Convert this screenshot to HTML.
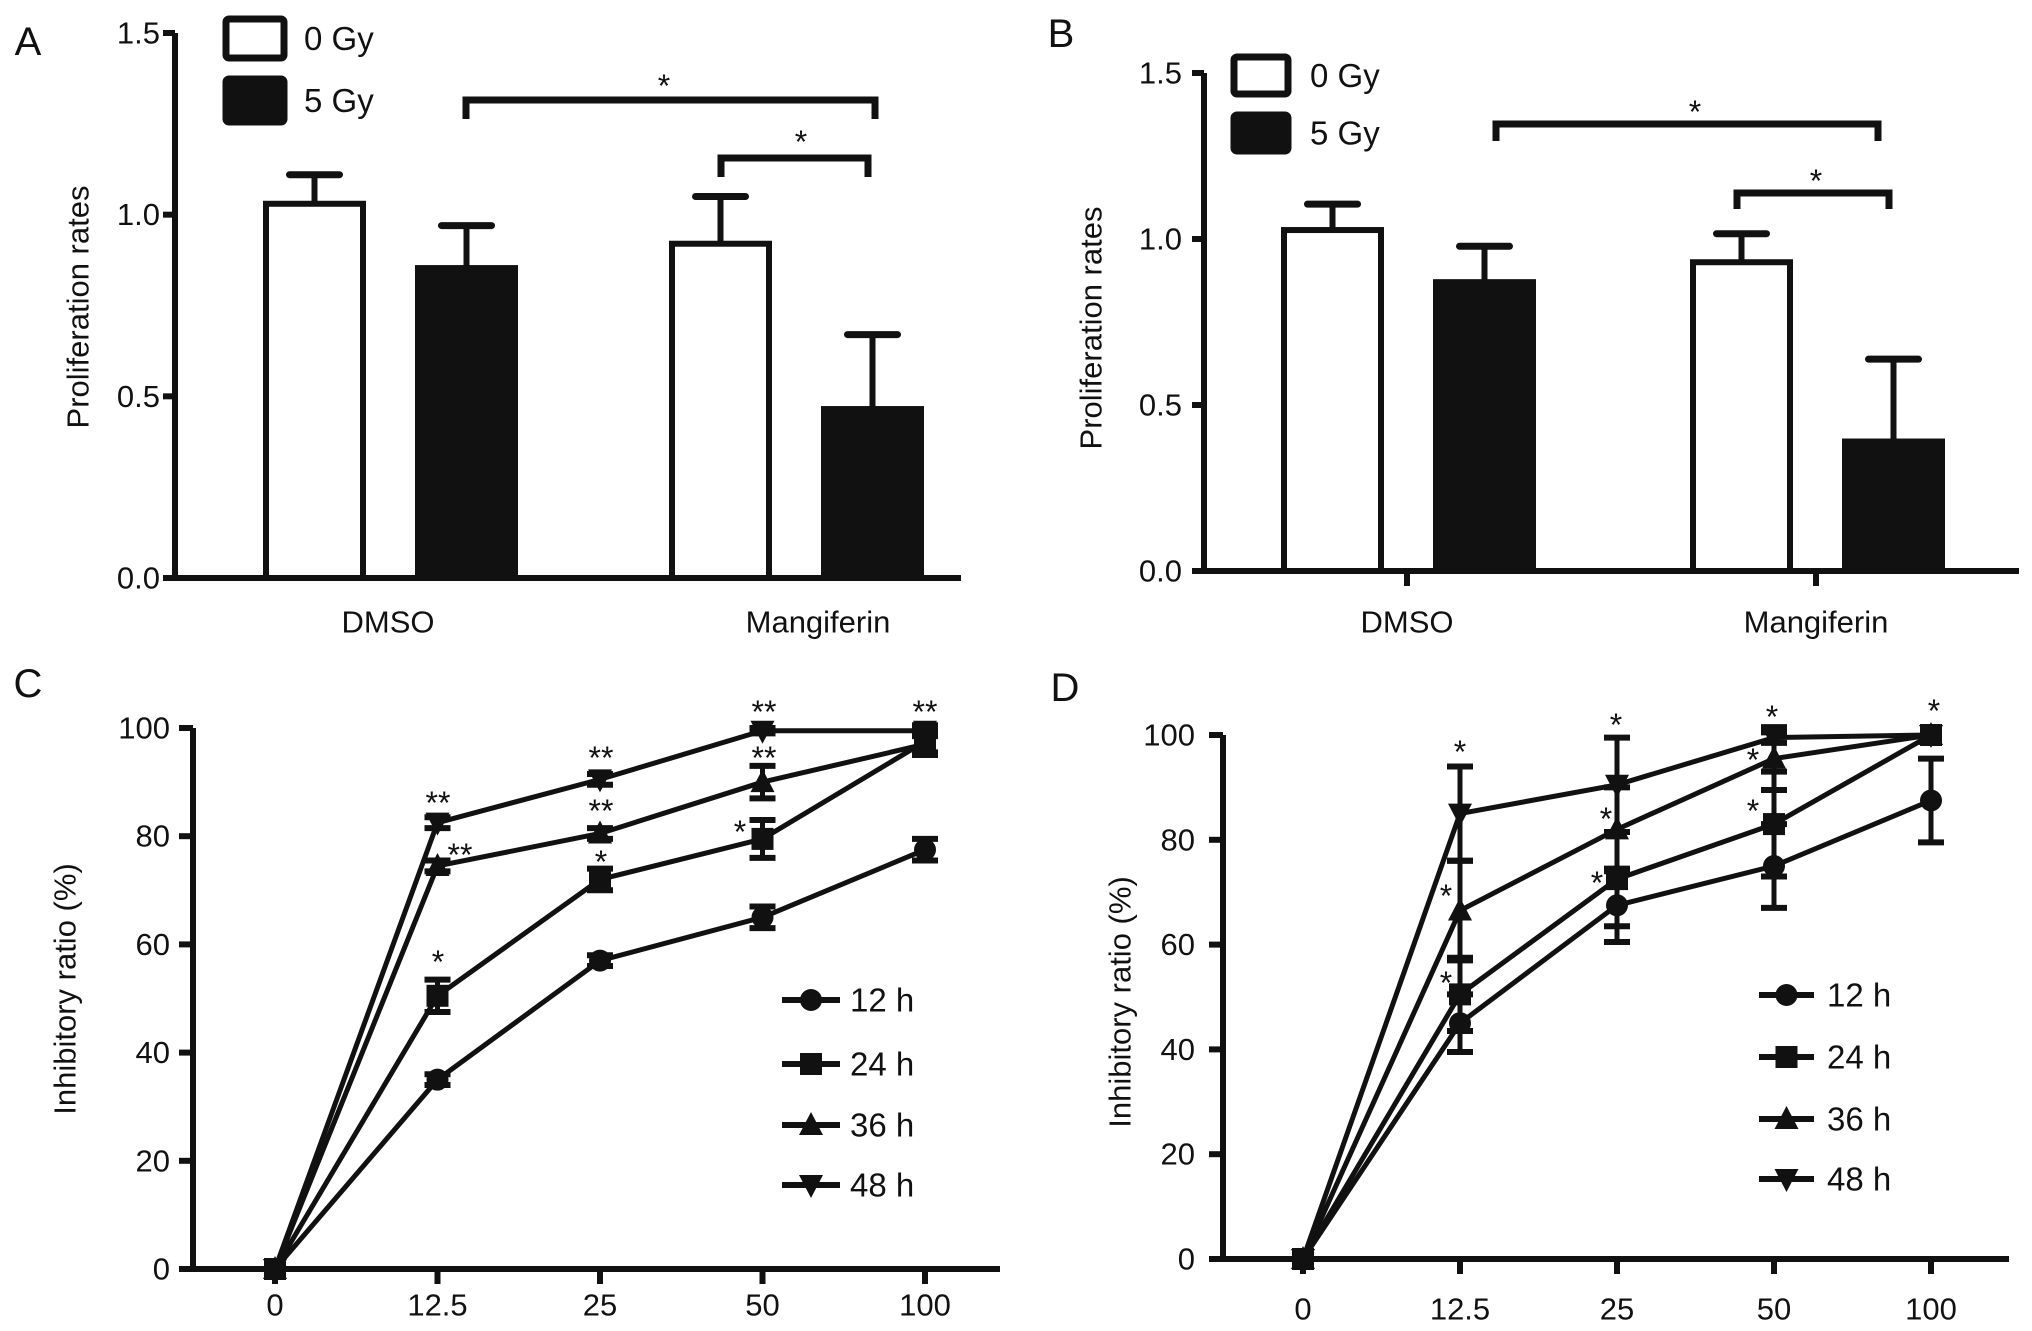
<!DOCTYPE html>
<html><head><meta charset="utf-8"><style>
html,body{margin:0;padding:0;background:#fff}
svg{display:block;font-family:"Liberation Sans",sans-serif}
</style></head><body>
<svg id="fig" width="2032" height="1331" viewBox="0 0 2032 1331" xmlns="http://www.w3.org/2000/svg"></svg>
<script>
// ---- Data: bar charts A & B ----
const barGroups = ["DMSO", "Mangiferin"];
const barSeries = ["0 Gy", "5 Gy"];
const barTicks = [0.0, 0.5, 1.0, 1.5];
const aMean0 = [1.03, 0.92];
const aErr0 = [0.08, 0.13];
const aMean5 = [0.853, 0.465];
const aErr5 = [0.117, 0.205];
const bMean0 = [1.027, 0.93];
const bErr0 = [0.078, 0.086];
const bMean5 = [0.87, 0.39];
const bErr5 = [0.108, 0.248];
// ---- Data: line charts C & D ----
const doseLabels = ["0", "12.5", "25", "50", "100"];
const lineSeries = ["12 h", "24 h", "36 h", "48 h"];
const lineTicks = [0, 20, 40, 60, 80, 100];
const c12 = [0, 35, 57, 65, 77.5];
const c12e = [0, 1, 1, 2, 2];
const c24 = [0, 50.5, 72, 79.5, 97.5];
const c24e = [0, 3, 2, 3.5, 2];
const c36 = [0, 74.5, 80.5, 90, 97];
const c36e = [0, 1, 1, 3, 2];
const c48 = [0, 82.5, 90.5, 99.5, 99.5];
const c48e = [0, 1, 1, 0.5, 1];
const d12 = [0, 45, 67.5, 75, 87.5];
const d12e = [0, 5.5, 7, 8, 8];
const d24 = [0, 50.5, 72.5, 83, 100];
const d24e = [0, 7, 9, 10, 0];
const d36 = [0, 66.5, 82, 95.5, 100];
const d36e = [0, 9.5, 8, 6, 0];
const d48 = [0, 85, 90.5, 99.5, 100];
const d48e = [0, 9, 9, 1, 0];

const NS = "http://www.w3.org/2000/svg";
const svg = document.getElementById("fig");
function mk(tag, attrs, parent) {
  const e = document.createElementNS(NS, tag);
  for (const k in attrs) e.setAttribute(k, attrs[k]);
  (parent || svg).appendChild(e);
  return e;
}
function txt(s, x, y, size, anchor, parent) {
  const t = mk("text", {x: x, y: y, "font-size": size, "text-anchor": anchor || "middle", "dominant-baseline": "central", fill: "#111"}, parent);
  t.textContent = s;
  return t;
}
const SW = 6;

function barPanel(cfg) {
  const g = mk("g", {});
  
  
  const y = v => cfg.y0 - (v / 1.5) * (cfg.y0 - cfg.y15);
  const letter = txt(cfg.letter, cfg.lx, cfg.ly, 40, "middle", g);
  
  
  const ya = mk("line", {x1: cfg.ax, y1: y(1.5), x2: cfg.ax, y2: cfg.y0 + SW/2, stroke: "#111", "stroke-width": SW}, g);
  
  
  const xa = mk("line", {x1: cfg.ax - 12, y1: cfg.y0, x2: cfg.axEnd, y2: cfg.y0, stroke: "#111", "stroke-width": SW}, g);
  
  
  barTicks.forEach(t => {
    mk("line", {x1: cfg.ax - 12, y1: y(t), x2: cfg.ax, y2: y(t), stroke: "#111", "stroke-width": SW}, g);
    const l = txt(t.toFixed(1), cfg.tickR, y(t), 31, "end", g);
    
    
  });
  const yl = txt("Proliferation rates", 0, 0, 31, "middle", g);
  yl.setAttribute("transform", `translate(${cfg.ylx},${cfg.yly}) rotate(-90)`);
  
  
  const bars = [[cfg.m0, cfg.e0, "#fff"], [cfg.m5, cfg.e5, "#111"]];
  barGroups.forEach((grp, gi) => {
    bars.forEach((b, si) => {
      const x1 = cfg.barX[gi][si], w = cfg.bw;
      const cx = x1 + w / 2;
      const top = y(b[0][gi]), et = y(b[0][gi] + b[1][gi]);
      const el = mk("line", {x1: cx, y1: top, x2: cx, y2: et, stroke: "#111", "stroke-width": SW}, g);
      
      
      mk("line", {x1: cx - 25, y1: et, x2: cx + 25, y2: et, stroke: "#111", "stroke-width": SW + 1, "stroke-linecap": "round"}, g);
      const r = mk("rect", {x: x1 + SW/2, y: top, width: w - SW, height: cfg.y0 - top, fill: b[2], stroke: "#111", "stroke-width": SW}, g);
      
      
    });
    if (cfg.catTicks) mk("line", {x1: cfg.catX[gi], y1: cfg.y0, x2: cfg.catX[gi], y2: cfg.y0 + 15, stroke: "#111", "stroke-width": SW}, g);
    const cl = txt(grp, cfg.catX[gi], cfg.catY, 31, "middle", g);
    
    
  });
  barSeries.forEach((s, i) => {
    const bx = cfg.leg[i];
    const r = mk("rect", {x: bx[0], y: bx[1], width: bx[2], height: bx[3], rx: 3, fill: i ? "#111" : "#fff", stroke: "#111", "stroke-width": 7}, g);
    
    
    const t = txt(s, cfg.legTx, bx[1] + bx[3] / 2, 33, "start", g);
    
    
  });
  cfg.brk.forEach(b => {
    const p = mk("path", {d: `M${b[0]},${b[3]} L${b[0]},${b[2]} L${b[1]},${b[2]} L${b[1]},${b[3]}`, fill: "none", stroke: "#111", "stroke-width": SW + 1}, g);
    
    
    const s = txt("*", b[4], b[5], 32, "middle", g);
    
    
  });
}

barPanel({name: "panel-a", letter: "A", lx: 28, ly: 42, ax: 175, axEnd: 961, y0: 578, y15: 33, tickR: 160,
  ylx: 78, yly: 307, m0: aMean0, e0: aErr0, m5: aMean5, e5: aErr5, bw: 103,
  barX: [[263, 415], [669, 821]], catX: [388, 818], catY: 622, catTicks: false,
  leg: [[226, 19, 58, 39], [226, 79, 58, 43]], legTx: 304,
  brk: [[466, 875, 100, 119, 664, 86], [721, 868, 158, 177, 801, 142]]});
barPanel({name: "panel-b", letter: "B", lx: 1061, ly: 34, ax: 1204, axEnd: 2019, y0: 571, y15: 73, tickR: 1182,
  ylx: 1091, yly: 328, m0: bMean0, e0: bErr0, m5: bMean5, e5: bErr5, bw: 103,
  barX: [[1281, 1433], [1690, 1842]], catX: [1407, 1816], catY: 622, catTicks: true,
  leg: [[1234, 57, 54, 37], [1234, 115, 54, 36]], legTx: 1310,
  brk: [[1496, 1878, 124, 141, 1695, 112], [1737, 1889, 193, 209, 1816, 181]]});

function marker(kind, cx, cy, g) {
  let e;
  if (kind === 0) e = mk("circle", {cx: cx, cy: cy, r: 11, fill: "#111"}, g);
  else if (kind === 1) e = mk("rect", {x: cx - 11, y: cy - 11, width: 22, height: 22, fill: "#111"}, g);
  else if (kind === 2) e = mk("path", {d: `M${cx},${cy - 13} L${cx + 12},${cy + 10} L${cx - 12},${cy + 10} Z`, fill: "#111"}, g);
  else e = mk("path", {d: `M${cx},${cy + 13} L${cx + 12},${cy - 10} L${cx - 12},${cy - 10} Z`, fill: "#111"}, g);
  return e;
}

function linePanel(cfg) {
  const g = mk("g", {});
  
  
  const y = v => cfg.y0 - (v / 100) * (cfg.y0 - cfg.y100);
  const x = i => cfg.xs0 + i * cfg.xstep;
  const letter = txt(cfg.letter, cfg.lx, cfg.ly, 40, "middle", g);
  
  
  const ya = mk("line", {x1: cfg.ax, y1: y(100), x2: cfg.ax, y2: cfg.y0 + SW/2, stroke: "#111", "stroke-width": SW}, g);
  
  
  const xa = mk("line", {x1: cfg.ax - 14, y1: cfg.y0, x2: cfg.axEnd, y2: cfg.y0, stroke: "#111", "stroke-width": SW}, g);
  
  
  lineTicks.forEach(t => {
    mk("line", {x1: cfg.ax - 14, y1: y(t), x2: cfg.ax, y2: y(t), stroke: "#111", "stroke-width": SW}, g);
    const l = txt(String(t), cfg.tickR, y(t), 31, "end", g);
    
    
  });
  doseLabels.forEach((d, i) => {
    mk("line", {x1: x(i), y1: cfg.y0, x2: x(i), y2: cfg.y0 + 15, stroke: "#111", "stroke-width": SW}, g);
    const l = txt(d, x(i), cfg.xly, 31, "middle", g);
    
    
  });
  const yl = txt("Inhibitory ratio (%)", 0, 0, 31, "middle", g);
  yl.setAttribute("transform", `translate(${cfg.ylx},${cfg.yly}) rotate(-90)`);
  
  
  cfg.series.forEach((s, si) => {
    const vals = s[0], errs = s[1];
    const pts = vals.map((v, i) => `${x(i)},${y(v)}`).join(" ");
    const pl = mk("polyline", {points: pts, fill: "none", stroke: "#111", "stroke-width": 5}, g);
    
    
    vals.forEach((v, i) => {
      const e = errs[i];
      if (e > 0) {
        mk("line", {x1: x(i), y1: y(v - e), x2: x(i), y2: y(v + e), stroke: "#111", "stroke-width": 5}, g);
        mk("line", {x1: x(i) - 13, y1: y(v + e), x2: x(i) + 13, y2: y(v + e), stroke: "#111", "stroke-width": 6}, g);
        mk("line", {x1: x(i) - 13, y1: y(v - e), x2: x(i) + 13, y2: y(v - e), stroke: "#111", "stroke-width": 6}, g);
      }
      const m = marker(si, x(i), y(v), g);
      
      
    });
  });
  cfg.stars.forEach(s => {
    const t = txt(s[0], s[1], s[2], 32, "middle", g);
    
    
  });
  lineSeries.forEach((s, i) => {
    const yy = cfg.legY[i];
    mk("line", {x1: cfg.legX[0], y1: yy, x2: cfg.legX[1], y2: yy, stroke: "#111", "stroke-width": 6}, g);
    const m = marker(i, (cfg.legX[0] + cfg.legX[1]) / 2, yy, g);
    
    
    const t = txt(s, cfg.legTx, yy, 33, "start", g);
    
    
  });
}

linePanel({name: "panel-c", letter: "C", lx: 28, ly: 684, ax: 193, axEnd: 1000, y0: 1269, y100: 728, tickR: 170,
  xs0: 275, xstep: 162.5, xly: 1305, ylx: 65, yly: 989,
  series: [[c12, c12e], [c24, c24e], [c36, c36e], [c48, c48e]],
  legX: [782, 840], legY: [1000, 1064, 1125, 1185], legTx: 850,
  stars: [["**", 438, 803], ["**", 460, 855], ["*", 438, 962], ["**", 601, 758], ["**", 601, 811], ["*", 601, 862],
          ["**", 764, 712], ["**", 764, 758], ["*", 740, 832], ["**", 925, 712]]});
linePanel({name: "panel-d", letter: "D", lx: 1065, ly: 688, ax: 1223, axEnd: 2009, y0: 1259, y100: 735, tickR: 1195,
  xs0: 1303, xstep: 157, xly: 1309, ylx: 1120, yly: 1002,
  series: [[d12, d12e], [d24, d24e], [d36, d36e], [d48, d48e]],
  legX: [1759, 1814], legY: [995, 1057, 1119, 1179], legTx: 1827,
  stars: [["*", 1460, 752], ["*", 1446, 896], ["*", 1446, 983], ["*", 1616, 725], ["*", 1606, 819], ["*", 1597, 883],
          ["*", 1772, 717], ["*", 1753, 760], ["*", 1753, 811], ["*", 1934, 711]]});
</script>
</body></html>
